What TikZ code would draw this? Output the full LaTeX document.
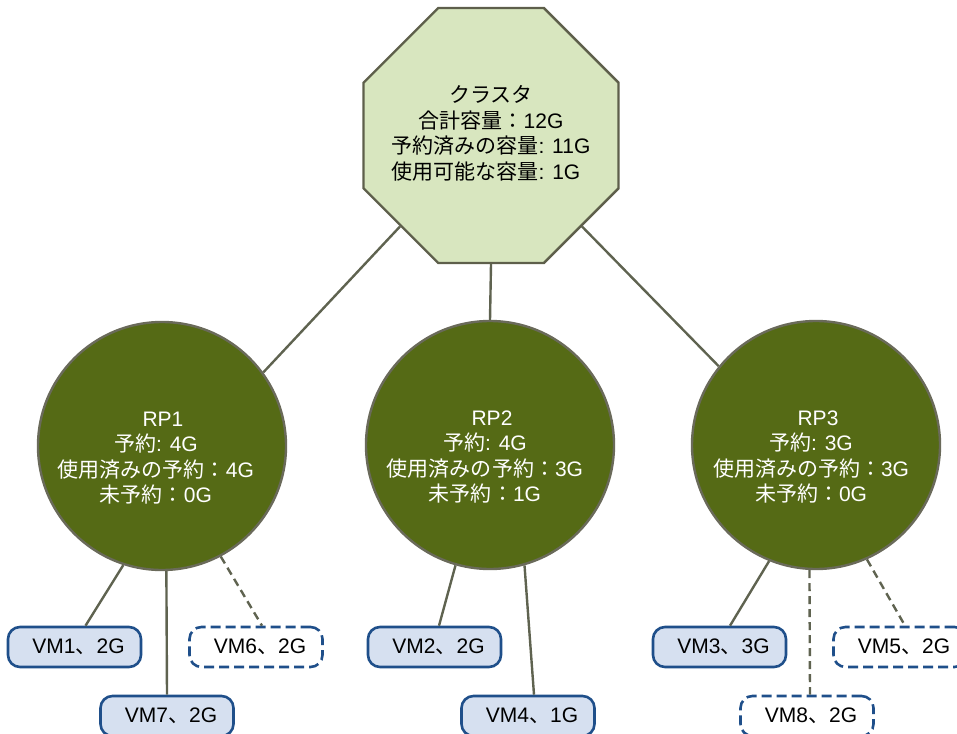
\documentclass[tikz,border=0pt]{standalone}
\usepackage{fontspec}
\setmainfont{Liberation Sans}
\newfontfamily\jp{Noto Sans CJK JP}
\usetikzlibrary{shapes.geometric}

\definecolor{octfill}{HTML}{D8E6BF}
\definecolor{octline}{HTML}{5E5F4B}
\definecolor{rpfill}{HTML}{556A15}
\definecolor{rpline}{HTML}{6A6A5A}
\definecolor{wire}{HTML}{5F6350}
\definecolor{vmfill}{HTML}{D6E0F0}
\definecolor{vmline}{HTML}{1F4F8A}

\tikzset{
  cluster/.style={regular polygon, regular polygon sides=8, minimum size=276pt,
    inner sep=0pt, draw=octline, line width=2.4pt, fill=octfill},
  rpool/.style={circle, minimum size=248pt, inner sep=0pt, draw=rpline,
    line width=2.4pt, fill=rpfill},
  labeltext/.style={align=center, inner sep=0pt,
    font=\fontsize{21}{25.5}\selectfont},
  vmbox/.style={rectangle, rounded corners=12pt, minimum width=133pt,
    minimum height=40pt, inner sep=0pt, draw=vmline, line width=2.6pt,
    fill=vmfill, font=\fontsize{21}{24}\selectfont},
  vmspare/.style={vmbox, fill=white, dash pattern=on 10pt off 5pt},
  wire/.style={draw=wire, line width=2.4pt},
  wiredash/.style={wire, dash pattern=on 8pt off 5pt},
}

\begin{document}
\begin{tikzpicture}[x=1pt, y=-1pt]
\useasboundingbox (0,0) rectangle (957,733);
\clip (0,0) rectangle (957,733);

% cluster and resource pools
\node[cluster] (cl) at (491,135.5) {};
\node[labeltext] (cltext) at ([yshift=2pt]cl.center)
  {{\jp クラスタ}\\
   {\jp 合計容量：}12G\\
   {\jp 予約済みの容量}: 11G\\
   {\jp 使用可能な容量}: 1G\hspace*{10pt}};

\node[rpool] (rp1) at (162,446) {};
\node[rpool] (rp2) at (490,445) {};
\node[rpool] (rp3) at (816,445) {};

\node[labeltext, text=white] (rp1text) at ([xshift=-6pt,yshift=-12pt]rp1.center)
  {\hspace*{14pt}RP1\\
   {\jp 予約}: 4G\\
   {\jp 使用済みの予約：}4G\\
   {\jp 未予約：}0G};
\node[labeltext, text=white] (rp2text) at ([xshift=-5pt,yshift=-12pt]rp2.center)
  {\hspace*{14pt}RP2\\
   {\jp 予約}: 4G\\
   {\jp 使用済みの予約：}3G\\
   {\jp 未予約：}1G};
\node[labeltext, text=white] (rp3text) at ([xshift=-5pt,yshift=-12pt]rp3.center)
  {\hspace*{14pt}RP3\\
   {\jp 予約}: 3G\\
   {\jp 使用済みの予約：}3G\\
   {\jp 未予約：}0G};

% virtual machines
\node[vmbox]   (vm1) at (74.5,647) {\hspace*{8pt}VM1{\jp 、}2G};
\node[vmspare] (vm6) at (256,647)  {\hspace*{8pt}VM6{\jp 、}2G};
\node[vmbox]   (vm7) at (167,716)  {\hspace*{8pt}VM7{\jp 、}2G};
\node[vmbox]   (vm2) at (434.5,647) {\hspace*{8pt}VM2{\jp 、}2G};
\node[vmbox]   (vm4) at (528,716)  {\hspace*{8pt}VM4{\jp 、}1G};
\node[vmbox]   (vm3) at (719.5,647) {\hspace*{8pt}VM3{\jp 、}3G};
\node[vmspare] (vm8) at (807,716)  {\hspace*{8pt}VM8{\jp 、}2G};
\node[vmspare] (vm5) at (900,647)  {\hspace*{8pt}VM5{\jp 、}2G};

% connectors
\draw[wire] (cl.225) -- (rp1.36.4);
\draw[wire] (cl.south) -- (rp2.north);
\draw[wire] (cl.-45) -- (rp3.141.3);

\draw[wire] (rp1.252) -- ([xshift=11pt]vm1.north);
\draw[wire] (rp1.-88) -- (vm7.north);
\draw[wiredash] (rp1.-62) -- ([xshift=6pt]vm6.north);

\draw[wire] (rp2.-106) -- ([xshift=4.5pt]vm2.north);
\draw[wire] (rp2.-74) -- ([xshift=6pt]vm4.north);

\draw[wire] (rp3.-112) -- ([xshift=10.5pt]vm3.north);
\draw[wiredash] (rp3.-93) -- ([xshift=3pt]vm8.north);
\draw[wiredash] (rp3.-66) -- ([xshift=5pt]vm5.north);
\end{tikzpicture}
\end{document}
